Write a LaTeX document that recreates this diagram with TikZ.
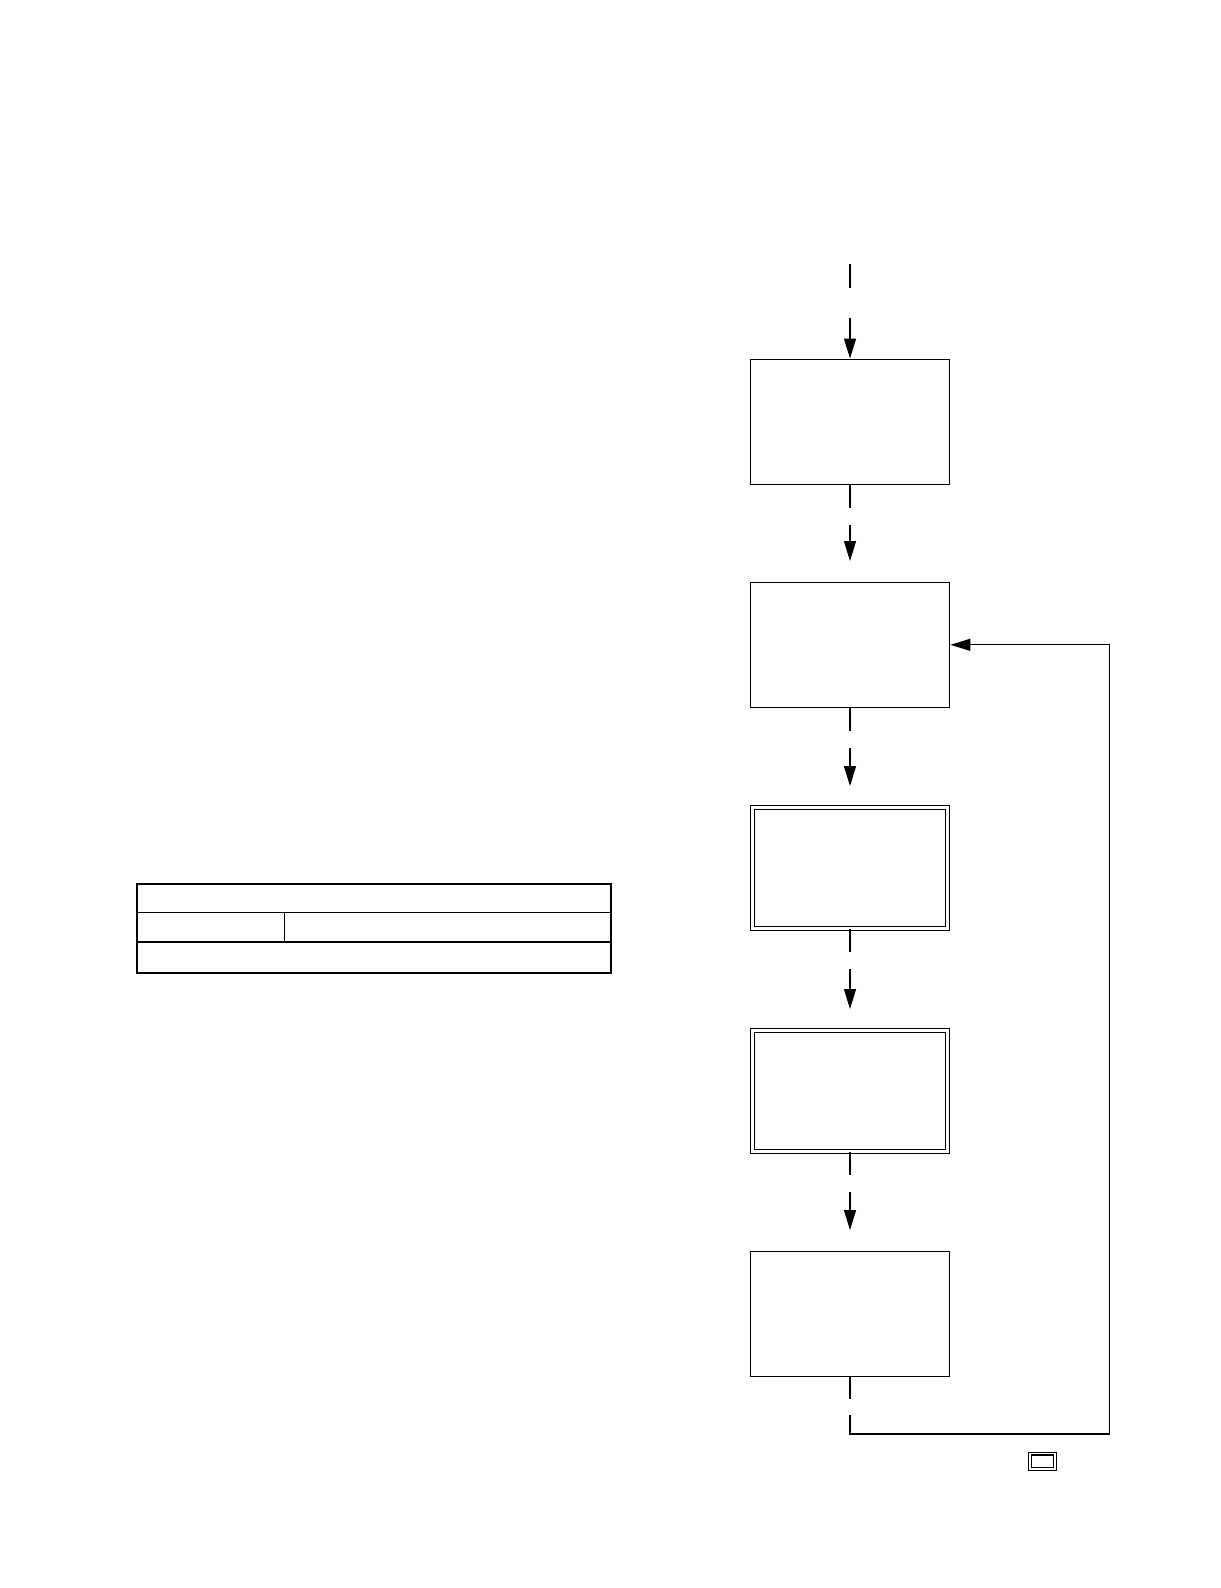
\documentclass[tikz,border=0pt]{standalone}
\usetikzlibrary{arrows.meta,calc}
\begin{document}
\begin{tikzpicture}[x=0.5pt,y=-0.5pt,
  box/.style={draw,line width=0.65pt,minimum width=99.7pt,minimum height=62.5pt,inner sep=0pt},
  dbox/.style={draw,line width=0.65pt,double,double distance=1.35pt,minimum width=97.7pt,minimum height=60.5pt,inner sep=0pt},
  conn/.style={line width=0.65pt},
  tip/.style={-{Triangle[length=10pt,width=6pt]}}]
\useasboundingbox[fill=white] (0,0) rectangle (1220,1588);

% flow boxes
\node[box]  (b1) at (850,421.7) {};
\node[box]  (b2) at (850,644.8) {};
\node[dbox] (b3) at (850,867.8) {};
\node[dbox] (b4) at (850,1090.8) {};
\node[box]  (b5) at (850,1313.8) {};

% incoming arrow at top
\coordinate (in0) at (850,264);
\draw[conn] (in0) -- ++(0,24);
\draw[conn,tip] ($(in0)+(0,54)$) -- (b1.north);

% connectors between boxes
\foreach \a/\b in {b1/b2,b2/b3,b3/b4,b4/b5}{
  \draw[conn] (\a.south) -- ++(0,23.5);
  \draw[conn,tip] ($(\a.south)+(0,40)$) -- ($(\b.north)+(0,-20.6)$);
}

% feedback loop
\draw[conn] (b5.south) -- ++(0,22);
\coordinate (fb0) at (850,1415);
\coordinate (fb1) at (1109.3,1434);
\draw[conn,tip] (fb0) |- (fb1) |- (b2.east);

% small double box
\node[draw,line width=0.6pt,double,double distance=0.85pt,minimum width=12.7pt,minimum height=7.65pt,inner sep=0pt] (key) at (1042.5,1461.2) {};

% table
\draw[line width=1pt] (136.7,884) rectangle (611,972.7);
\draw[line width=0.65pt] (136.7,912.3) -- (611,912.3);
\draw[line width=0.65pt] (136.7,942) -- (611,942);
\draw[line width=0.65pt] (284.7,912.3) -- (284.7,942);
\end{tikzpicture}
\end{document}
